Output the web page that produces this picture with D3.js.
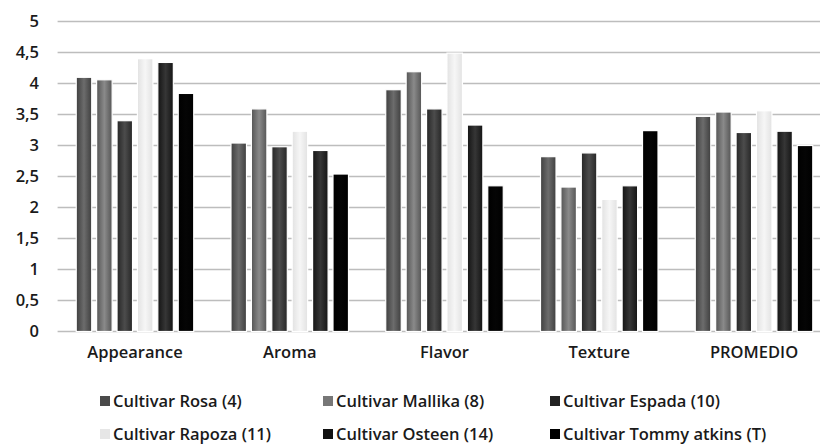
<!DOCTYPE html>
<html>
<head>
<meta charset="utf-8">
<script src="https://cdn.jsdelivr.net/npm/d3@7"></script>
<style>
  html, body { margin: 0; padding: 0; background: #fff; }
  svg { display: block; }
  text { font-family: "Open Sans", Lato, sans-serif; fill: #1a1a1a; }
</style>
</head>
<body>
<svg id="chart" width="820" height="446"></svg>
<script>
const categories = ["Appearance", "Aroma", "Flavor", "Texture", "PROMEDIO"];
const seriesNames = ["Cultivar Rosa (4)", "Cultivar Mallika (8)", "Cultivar Espada (10)",
                     "Cultivar Rapoza (11)", "Cultivar Osteen (14)", "Cultivar Tommy atkins (T)"];
const rosa    = [4.10, 3.04, 3.90, 2.82, 3.47];
const mallika = [4.06, 3.59, 4.19, 2.33, 3.54];
const espada  = [3.40, 2.98, 3.59, 2.88, 3.21];
const rapoza  = [4.40, 3.23, 4.49, 2.13, 3.56];
const osteen  = [4.34, 2.92, 3.33, 2.35, 3.23];
const tommy   = [3.84, 2.54, 2.35, 3.24, 3.00];
const yTicks = [0, 0.5, 1, 1.5, 2, 2.5, 3, 3.5, 4, 4.5, 5];
const tickLabels = ["0", "0,5", "1", "1,5", "2", "2,5", "3", "3,5", "4", "4,5", "5"];

const seriesValues = [rosa, mallika, espada, rapoza, osteen, tommy];
const shades = [["#3f3f3f", "#6c6c6c"], ["#555555", "#8a8a8a"], ["#262626", "#4c4c4c"],
                ["#e2e2e2", "#f6f6f6"], ["#141414", "#363636"], ["#000000", "#050505"]];
const legendColors = ["#4a4a4a", "#777777", "#222222", "#e6e6e6", "#111111", "#000000"];

const svg = d3.select("#chart");
const defs = svg.append("defs");
shades.forEach((s, i) => {
  const g = defs.append("linearGradient").attr("id", "g" + i)
    .attr("x1", "0").attr("x2", "1").attr("y1", "0").attr("y2", "0");
  g.append("stop").attr("offset", "0%").attr("stop-color", s[0]);
  g.append("stop").attr("offset", "50%").attr("stop-color", s[1]);
  g.append("stop").attr("offset", "100%").attr("stop-color", s[0]);
});

const y = d3.scaleLinear().domain([0, 5]).range([331.5, 21.5]);
const x0 = d3.scaleBand().domain(categories).range([57.6, 831.4]);
const x1 = d3.scaleBand().domain(d3.range(seriesNames.length))
  .range([0, x0.bandwidth()]).paddingInner(0.24).paddingOuter(0.913);

svg.append("g").selectAll("line").data(yTicks).join("line")
  .attr("x1", 57.6).attr("x2", 820)
  .attr("y1", d => y(d)).attr("y2", d => y(d))
  .attr("stroke", "#bdbdbd").attr("stroke-width", 1.5);

const fontStyle = sel => sel.style("font-family", "'Open Sans', Lato, sans-serif")
  .style("font-size", "16.5px").style("font-weight", "600").attr("fill", "#1a1a1a");

const yAxis = d3.axisLeft(y).tickValues(yTicks)
  .tickFormat((d, i) => tickLabels[i]).tickSize(0).tickPadding(0);
const ya = svg.append("g").attr("transform", "translate(39,0)").call(yAxis);
ya.select(".domain").remove();
ya.selectAll("text").call(fontStyle);

const groups = svg.append("g").selectAll("g").data(categories).join("g")
  .attr("transform", c => `translate(${x0(c)},0)`);
groups.selectAll("rect")
  .data((c, ci) => seriesValues.map((vals, si) => ({ si, v: vals[ci] })))
  .join("rect")
  .attr("x", d => x1(d.si))
  .attr("width", x1.bandwidth())
  .attr("y", d => y(d.v))
  .attr("height", d => y(0) - y(d.v))
  .attr("fill", d => `url(#g${d.si})`)
  .attr("stroke", "#fff").attr("stroke-width", 1.2);

const xAxis = d3.axisBottom(x0).tickSize(0).tickPadding(0);
const xa = svg.append("g").attr("transform", "translate(0,346)").call(xAxis);
xa.select(".domain").remove();
xa.selectAll("text").call(fontStyle);

const legendX = [100, 323, 550];
const legendY = [401, 434];
const leg = svg.append("g").selectAll("g").data(seriesNames).join("g")
  .attr("transform", (d, i) => `translate(${legendX[i % 3]},${legendY[Math.floor(i / 3)]})`);
leg.append("rect").attr("x", 0).attr("y", -5).attr("width", 10).attr("height", 10)
  .attr("fill", (d, i) => legendColors[i]);
leg.append("text").attr("x", 13).attr("y", 0).attr("dy", "0.35em")
  .call(fontStyle).text(d => d);
</script>
</body>
</html>
